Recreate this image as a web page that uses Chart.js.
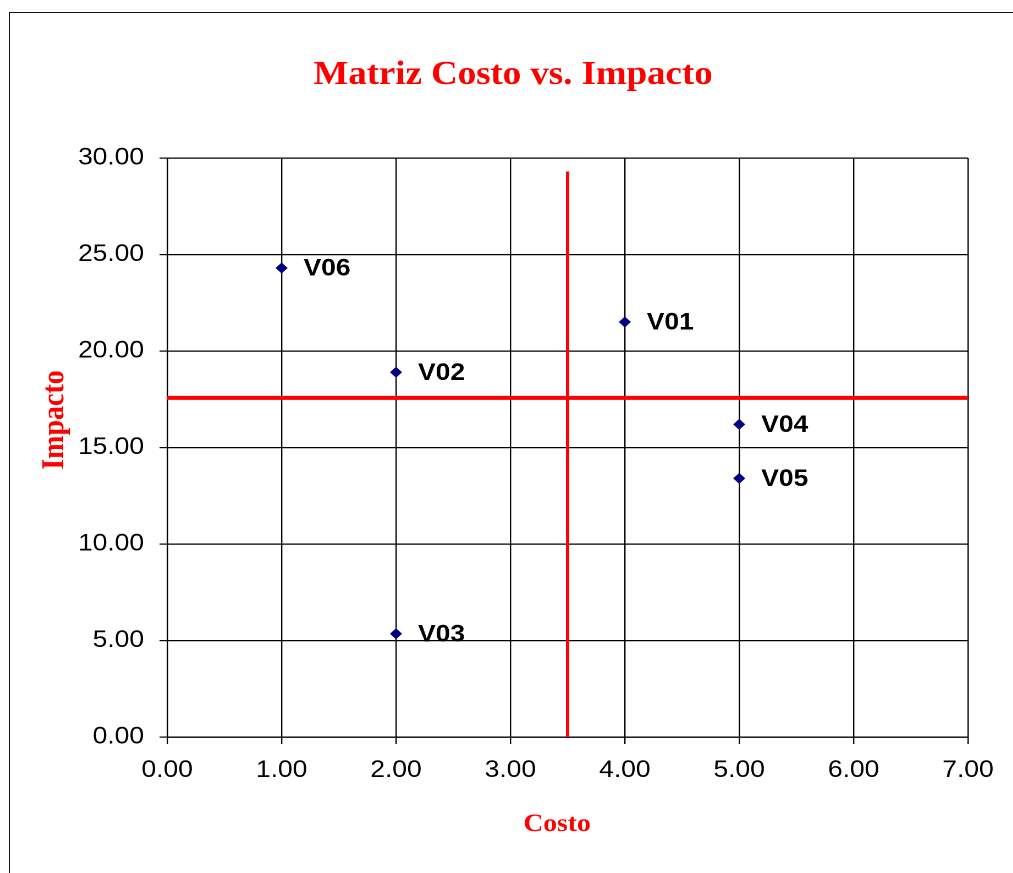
<!DOCTYPE html>
<html><head><meta charset="utf-8">
<script src="https://cdn.jsdelivr.net/npm/chart.js@4.4.1/dist/chart.umd.min.js"></script>
<style>
html,body{margin:0;padding:0;background:#fff;overflow:hidden;width:1013px;height:873px;}
#frame{position:absolute;left:9px;top:12px;width:1200px;height:1000px;border-top:1.5px solid #111;border-left:1.5px solid #111;}
#wrap{position:absolute;left:0;top:0;width:921px;height:873px;transform:scaleX(1.1);transform-origin:0 0;}
</style></head><body>
<div id="frame"></div>
<div id="wrap"><canvas id="c"></canvas></div>
<script>
const chartTitle = 'Matriz Costo vs. Impacto';
const xAxisTitle = 'Costo';
const yAxisTitle = 'Impacto';
const labels = ['V01', 'V02', 'V03', 'V04', 'V05', 'V06'];
const costo = [4, 2, 2, 5, 5, 1];
const impacto = [21.5, 18.9, 5.35, 16.2, 13.4, 24.3];
const costoCorte = 3.5;
const impactoCorte = 17.57;
const verticalLineY = [0, 29.3];
const horizontalLineX = [0, 7];
const xRange = [0, 7, 1];
const yRange = [0, 30, 5];

const SANS = '"Liberation Sans", Arial, sans-serif';
const SERIF = '"Liberation Serif", "Times New Roman", serif';

const overlay = {
  id: 'overlay',
  afterDatasetsDraw(chart) {
    const ctx = chart.ctx;
    const meta = chart.getDatasetMeta(0);
    ctx.save();
    ctx.fillStyle = '#000';
    ctx.font = 'bold 24px ' + SANS;
    ctx.textAlign = 'left';
    ctx.textBaseline = 'middle';
    meta.data.forEach((pt, i) => ctx.fillText(labels[i], pt.x + 20, pt.y + 1));
    ctx.restore();
  },
  afterDraw(chart) {
    const ctx = chart.ctx;
    ctx.save();
    ctx.fillStyle = '#ff0000';
    ctx.textAlign = 'center';
    ctx.textBaseline = 'alphabetic';
    ctx.font = 'bold 33.5px ' + SERIF;
    ctx.fillText(chartTitle, 466.4, 84);
    ctx.font = 'bold 25px ' + SERIF;
    ctx.fillText(xAxisTitle, 506.4, 831);
    ctx.translate(57.3, 420);
    ctx.rotate(-Math.PI / 2);
    ctx.font = 'bold 28px ' + SERIF;
    ctx.fillText(yAxisTitle, 0, 0);
    ctx.restore();
  }
};

new Chart(document.getElementById('c'), {
  type: 'scatter',
  data: {
    datasets: [
      {
        label: 'Vulnerabilidades',
        data: costo.map((c, i) => ({x: c, y: impacto[i]})),
        pointStyle: 'rectRot',
        pointRadius: 5.5,
        pointBackgroundColor: '#000080',
        pointBorderColor: '#000080',
        pointBorderWidth: 0,
        order: 0
      },
      {
        label: 'Corte Costo',
        data: verticalLineY.map(v => ({x: costoCorte, y: v})),
        showLine: true,
        borderColor: '#ff0000',
        borderWidth: 3,
        pointRadius: 0,
        order: 1
      },
      {
        label: 'Corte Impacto',
        data: horizontalLineX.map(v => ({x: v, y: impactoCorte})),
        showLine: true,
        borderColor: '#ff0000',
        borderWidth: 4,
        pointRadius: 0,
        order: 1
      }
    ]
  },
  options: {
    responsive: true,
    maintainAspectRatio: false,
    animation: false,
    devicePixelRatio: 2,
    layout: {padding: {top: 158, right: 41, bottom: 0, left: 0}},
    plugins: {legend: {display: false}, tooltip: {enabled: false}, title: {display: false}},
    events: [],
    scales: {
      x: {
        type: 'linear',
        min: xRange[0], max: xRange[1],
        ticks: {stepSize: xRange[2], color: '#000', padding: 12,
          font: {family: SANS, size: 24},
          callback: v => Number(v).toFixed(2)},
        grid: {color: '#000', lineWidth: 1.2, tickLength: 7, drawTicks: true},
        border: {color: '#000', width: 1.2},
        afterFit: s => { s.height = 136; }
      },
      y: {
        type: 'linear',
        min: yRange[0], max: yRange[1],
        ticks: {stepSize: yRange[2], color: '#000', padding: 14,
          font: {family: SANS, size: 24},
          callback: v => Number(v).toFixed(2)},
        grid: {color: '#000', lineWidth: 1.2, tickLength: 7, drawTicks: true},
        border: {color: '#000', width: 1.2},
        afterFit: s => { s.width = 152; }
      }
    }
  },
  plugins: [overlay]
});
</script>
</body></html>
